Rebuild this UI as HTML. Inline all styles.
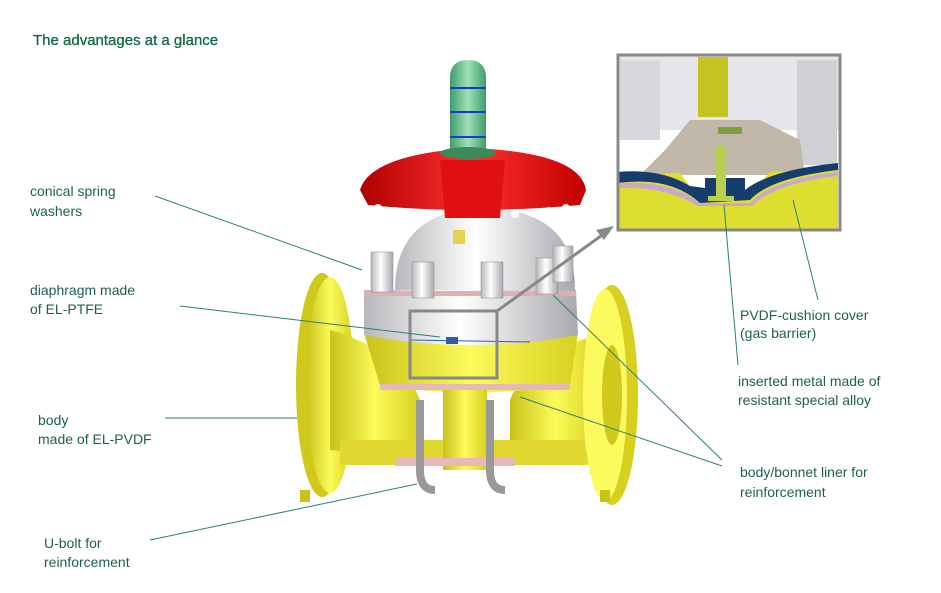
<!DOCTYPE html>
<html><head><meta charset="utf-8"><style>
body{margin:0;background:#fff;width:941px;height:588px;overflow:hidden;font-family:"Liberation Sans",sans-serif}
</style></head><body>
<svg width="941" height="588" viewBox="0 0 941 588" xmlns="http://www.w3.org/2000/svg">
<defs>
<linearGradient id="yl" x1="0" x2="1"><stop offset="0" stop-color="#c9c21a"/><stop offset=".5" stop-color="#fbfb5a"/><stop offset="1" stop-color="#d8d020"/></linearGradient>
<linearGradient id="gr" x1="0" x2="1"><stop offset="0" stop-color="#3f9e6a"/><stop offset=".5" stop-color="#9fe0b8"/><stop offset="1" stop-color="#3f9e6a"/></linearGradient>
<linearGradient id="wh" x1="0" x2="1"><stop offset="0" stop-color="#b8b8bc"/><stop offset=".45" stop-color="#ffffff"/><stop offset="1" stop-color="#a8a8ae"/></linearGradient>
<linearGradient id="rd" x1="0" x2="1"><stop offset="0" stop-color="#b00000"/><stop offset=".5" stop-color="#ff3030"/><stop offset="1" stop-color="#c00000"/></linearGradient>
</defs>
<text x="33" y="45" font-size="15" fill="#0f6a40" stroke="#0f6a40" stroke-width="0.3">The advantages at a glance</text>
<g font-size="14" fill="#1d5f55">
<text x="30" y="196">conical spring</text><text x="30" y="216">washers</text>
<text x="30" y="295">diaphragm made</text><text x="30" y="314">of EL-PTFE</text>
<text x="38" y="425">body</text><text x="38" y="444">made of EL-PVDF</text>
<text x="44" y="548">U-bolt for</text><text x="44" y="567">reinforcement</text>
<text x="740" y="320">PVDF-cushion  cover</text><text x="740" y="338">(gas barrier)</text>
<text x="738" y="386">inserted metal made of</text><text x="738" y="405">resistant special alloy</text>
<text x="740" y="477">body/bonnet liner for</text><text x="740" y="497">reinforcement</text>
</g>
<ellipse cx="322" cy="385" rx="26" ry="112" fill="#d0c81a"/>
<ellipse cx="330" cy="385" rx="24" ry="108" fill="url(#yl)"/>
<path d="M330 330 Q400 350 420 400 L420 460 L330 450 Z" fill="url(#yl)"/>
<path d="M600 335 Q530 350 510 400 L510 460 L600 455 Z" fill="url(#yl)"/>
<rect x="340" y="440" width="255" height="25" fill="#e0d830"/>
<ellipse cx="612" cy="395" rx="26" ry="110" fill="#d8d020"/>
<ellipse cx="605" cy="395" rx="22" ry="106" fill="#fbfb60"/>
<ellipse cx="612" cy="395" rx="10" ry="50" fill="#d0c81a"/>
<rect x="300" y="490" width="10" height="12" fill="#c9c21a"/>
<rect x="600" y="490" width="10" height="12" fill="#c9c21a"/>
<path d="M364 333 Q470 355 578 333 L570 385 Q470 400 380 385 Z" fill="url(#yl)"/>
<rect x="380" y="384" width="190" height="6" fill="#e8b8b8"/>
<rect x="443" y="390" width="44" height="80" fill="url(#yl)"/>
<rect x="395" y="458" width="120" height="8" fill="#e8b8b8"/>
<path d="M420 400 L420 470 Q420 490 435 490" stroke="#999" stroke-width="8" fill="none"/>
<path d="M490 400 L490 470 Q490 490 505 490" stroke="#999" stroke-width="8" fill="none"/>
<path d="M364 290 L576 290 L578 335 Q470 355 364 335 Z" fill="url(#wh)"/>
<rect x="364" y="291" width="212" height="5" fill="#e0b0b0"/>
<path d="M395 290 Q395 210 485 208 Q575 210 575 290 Z" fill="url(#wh)"/>
<rect x="453" y="230" width="12" height="14" fill="#e8d050"/>
<g fill="url(#wh)" stroke="#888" stroke-width="0.5">
<rect x="371" y="252" width="22" height="40"/><rect x="412" y="262" width="22" height="36"/>
<rect x="481" y="262" width="22" height="36"/><rect x="536" y="258" width="22" height="36"/><rect x="553" y="246" width="20" height="36"/>
</g>
<path d="M360 190 Q370 155 470 148 Q580 152 586 190 L580 205 Q470 215 368 205 Z" fill="url(#rd)"/>
<g fill="#fff"><circle cx="378" cy="208" r="4"/><circle cx="395" cy="211" r="4"/><circle cx="412" cy="213" r="4"/><circle cx="428" cy="214" r="4"/><circle cx="515" cy="214" r="4"/><circle cx="532" cy="213" r="4"/><circle cx="549" cy="211" r="4"/><circle cx="566" cy="208" r="4"/></g>
<path d="M440 160 L505 160 L500 218 L445 218 Z" fill="#e01010"/>
<path d="M450 155 L450 78 Q450 60 468 60 Q486 60 486 78 L486 155 Z" fill="url(#gr)"/>
<ellipse cx="468" cy="153" rx="28" ry="6" fill="#3a8a5a"/>
<g stroke="#1a3ad0" stroke-width="2"><line x1="450" y1="88" x2="486" y2="88"/><line x1="450" y1="112" x2="486" y2="112"/><line x1="450" y1="137" x2="486" y2="137"/></g>
<rect x="446" y="337" width="12" height="7" fill="#2a5fa0"/>
<line x1="410" y1="340" x2="530" y2="342" stroke="#3060b0" stroke-width="1"/>
<rect x="410" y="311" width="87" height="67" fill="none" stroke="#888" stroke-width="3"/>
<line x1="497" y1="311" x2="605" y2="233" stroke="#888" stroke-width="3"/>
<polygon points="614,226 596,230 604,240" fill="#888"/>
<rect x="618" y="55" width="222" height="175" fill="#fff"/>
<rect x="618" y="55" width="222" height="75" fill="#e6e6ea"/>
<rect x="620" y="60" width="40" height="80" fill="#d8d8dc"/>
<rect x="797" y="60" width="40" height="105" fill="#d0d0d4"/>
<rect x="698" y="57" width="30" height="60" fill="#c4c420"/>
<path d="M665 150 L690 120 L760 120 L800 140 L805 175 L640 175 Z" fill="#c2b8aa"/>
<path d="M618 175 L680 173 L700 200 L745 200 L770 172 L838 168 L838 230 L618 230 Z" fill="#dede30"/>
<path d="M618 172 Q660 168 690 186 L705 188 L705 178 L745 178 L745 190 Q770 170 838 163 L838 170 Q770 178 750 200 L700 203 Q670 176 618 183 Z" fill="#173d6e"/>
<path d="M620 183 Q670 180 700 203 L750 203 Q770 180 838 172 L838 176 Q775 183 752 206 L698 206 Q665 186 620 188 Z" fill="#c8a8d0"/>
<rect x="716" y="145" width="10" height="55" fill="#b8d050"/>
<rect x="708" y="196" width="26" height="5" fill="#b8d050"/>
<rect x="718" y="127" width="24" height="7" fill="#80a040"/>
<rect x="618" y="55" width="222" height="175" fill="none" stroke="#888" stroke-width="3"/>
<g stroke="#2a8078" stroke-width="1" fill="none">
<line x1="155" y1="196" x2="362" y2="270"/>
<line x1="180" y1="306" x2="440" y2="337"/>
<line x1="165" y1="418" x2="297" y2="418"/>
<line x1="150" y1="540" x2="417" y2="484"/>
<line x1="793" y1="200" x2="818" y2="300"/>
<line x1="724" y1="205" x2="738" y2="365"/>
<line x1="553" y1="295" x2="722" y2="460"/>
<line x1="520" y1="397" x2="722" y2="466"/>
</g>
</svg>
</body></html>
